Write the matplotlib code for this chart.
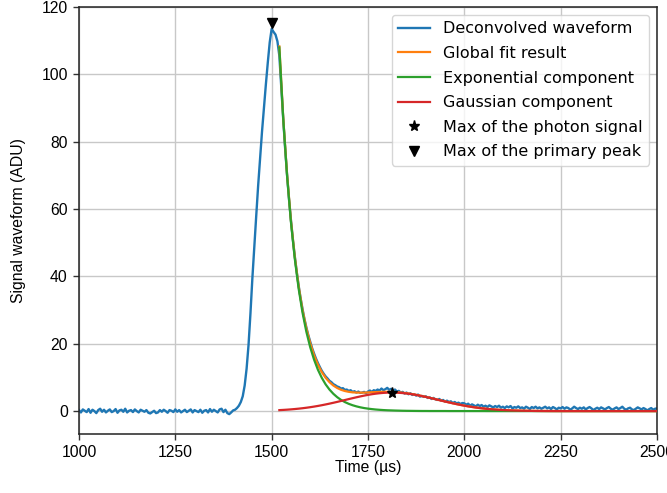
import numpy as np
import matplotlib
matplotlib.use("Agg")
import matplotlib.pyplot as plt

# ---------------- data ----------------
t_start, t_stop, t_step = 1000, 2500, 5

wave_base = [  # 1000 .. 1405
    0.3, -0.4, 0.5, 0.1, -0.3, 0.6, -0.5, 0.4, 0.0, -0.6, 0.3, 0.7, -0.2, 0.4, -0.4, 0.1, 0.5, -0.3, 0.0, 0.6,
    -0.5, 0.2, 0.4, -0.2, 0.7, -0.4, 0.1, 0.3, -0.3, 0.5, 0.0, -0.4, 0.4, 0.1, -0.2, 0.3, -0.5, -0.7, -0.3, 0.1,
    -0.6, -0.4, 0.3, -0.2, 0.4, 0.0, -0.5, 0.3, 0.1, -0.3, 0.5, -0.2, 0.3, -0.4, 0.0, 0.4, -0.3, 0.1, 0.5, -0.4,
    0.3, 0.0, -0.3, 0.4, -0.5, 0.1, 0.3, -0.4, 0.6, -0.2, 0.4, 0.0, -0.4, 0.5, 0.7, -0.3, 0.4, -0.6, -0.9, -0.4,
    0.2, 0.4,
]
wave_peak = [  # 1410 .. 1995
    0.9, 1.6, 2.7, 4.4, 7.6, 12.6, 19.6, 29.0, 39.5, 49.0, 58.0, 67.0, 75.0, 83.0, 90.0, 97.0, 103.5, 109.5,
    113.5, 112.6, 111.8, 109.8, 105.5, 96.0, 86.8, 78.0, 70.2, 63.0, 56.8, 51.0, 46.0, 41.4, 37.3, 33.6,
    30.4, 27.4, 24.9, 22.6, 20.6, 18.7, 17.1, 15.6, 14.3, 13.1, 12.0, 11.1, 10.3, 9.7, 9.0, 8.6, 8.0, 7.7,
    7.3, 7.1, 6.7, 6.8, 6.3, 6.4, 6.0, 6.2, 5.7, 5.9, 5.5, 5.8, 5.4, 5.5, 5.7, 5.3, 5.8, 6.1, 5.7, 6.2,
    6.0, 6.4, 6.1, 6.7, 6.2, 6.5, 6.9, 6.3, 6.6, 6.1, 6.4, 5.8, 6.0, 5.5, 5.7, 5.2, 5.5, 5.0, 5.3, 4.8,
    5.0, 4.6, 4.9, 4.3, 4.5, 4.2, 4.4, 3.9, 4.1, 3.6, 3.9, 3.5, 3.3, 3.6, 3.1, 3.3, 2.8, 3.1, 2.7, 2.9,
    2.4, 2.7, 2.3, 2.5, 2.1, 2.4,
]
wave_tail = [  # 2000 .. 2500
    2.3, 1.9, 2.2, 1.6, 2.0, 1.7, 1.4, 1.9, 1.5, 1.8, 1.3, 1.6, 1.2, 1.7, 1.4, 1.1, 1.5, 1.2, 1.6, 1.0,
    1.3, 0.9, 1.4, 1.1, 1.5, 0.8, 1.2, 1.0, 1.4, 0.9, 1.1, 0.7, 1.3, 1.0, 0.6, 1.2, 0.9, 1.3, 0.8, 1.1,
    0.7, 1.0, 1.3, 0.8, 1.1, 0.6, 1.2, 0.9, 0.5, 1.0, 0.8, 1.2, 0.7, 1.1, 0.9, 0.4, 0.8, 1.3, 0.9, 0.6,
    1.0, 0.7, 1.1, 0.5, 0.9, 1.2, 0.8, 0.3, 0.7, 1.0, 0.6, 1.1, 0.8, 0.5, 0.9, 1.2, 0.7, 0.4, 0.8, 1.1,
    0.6, 0.9, 1.3, 0.7, 0.4, 0.8, 1.0, 0.5, 0.3, 0.7, 1.1, 0.8, 0.5, 0.9, 0.6, 0.2, 0.6, 0.9, 0.4, 0.7,
    0.8,
]
waveform = wave_base + wave_peak + wave_tail

fit_start, fit_step = 1520, 10
exp_component = [
    108.0, 86.9, 69.9, 56.2, 45.3, 36.4, 29.3, 23.6, 19.0, 15.3, 12.3, 9.9, 7.95, 6.4, 5.15, 4.14, 3.33,
    2.68, 2.16, 1.74, 1.40, 1.12, 0.90, 0.73, 0.59, 0.47, 0.38, 0.30, 0.24, 0.20, 0.16, 0.13, 0.10, 0.08,
    0.066, 0.053, 0.04, 0.03, 0.03,
] + [0.02] * 5 + [0.01] * 10 + [0.0] * 45
gauss_component = [
    0.285, 0.348, 0.421, 0.507, 0.607, 0.720, 0.849, 0.993, 1.155, 1.334, 1.529, 1.741, 1.969, 2.211,
    2.465, 2.731, 3.003, 3.280, 3.558, 3.832, 4.100, 4.355, 4.594, 4.813, 5.007, 5.173, 5.307, 5.408,
    5.473, 5.500, 5.488, 5.438, 5.352, 5.231, 5.077, 4.894, 4.684, 4.452, 4.203, 3.940, 3.668, 3.391,
    3.114, 2.839, 2.571, 2.312, 2.064, 1.831, 1.612, 1.410, 1.224, 1.056, 0.905, 0.770, 0.650, 0.545,
    0.454, 0.376, 0.309, 0.252, 0.204, 0.164, 0.131, 0.104, 0.082, 0.064, 0.050, 0.038, 0.030, 0.023,
    0.017, 0.013, 0.010, 0.007,
] + [0.005] * 5 + [0.0] * 20
global_fit = [
    108.3, 87.2, 70.3, 56.7, 45.9, 37.1, 30.1, 24.6, 20.2, 16.6, 13.8, 11.6, 9.9, 8.6, 7.6, 6.87, 6.33,
    5.96, 5.72, 5.57, 5.50, 5.48, 5.49, 5.54, 5.60, 5.64, 5.69, 5.71, 5.71, 5.70, 5.65, 5.57, 5.45, 5.31,
    5.14, 4.95, 4.72, 4.48, 4.23, 3.96, 3.69, 3.41, 3.13, 2.86, 2.59, 2.33, 2.08, 1.84, 1.62, 1.42, 1.23,
    1.06, 0.91, 0.77, 0.65, 0.55, 0.46, 0.38, 0.31, 0.26, 0.21, 0.17, 0.14, 0.11, 0.09, 0.07, 0.05, 0.04,
    0.03, 0.023, 0.017, 0.013, 0.010, 0.007,
] + [0.005] * 5 + [0.0] * 20

photon_max = (1812, 5.4)
primary_max = (1500, 115.2)

xticks = [1000, 1250, 1500, 1750, 2000, 2250, 2500]
yticks = [0, 20, 40, 60, 80, 100, 120]

# ---------------- plot ----------------
t_wave = np.arange(t_start, t_start + t_step * len(waveform), t_step)
t_fit = np.arange(fit_start, fit_start + fit_step * len(global_fit), fit_step)

tick_font = "Liberation Sans"
fs = 11.3

fig = plt.figure(figsize=(6.67, 4.93), dpi=100)
ax = fig.add_axes([0.1184, 0.1197, 0.8666, 0.8661])

ax.plot(t_wave, waveform, color="#1f77b4", lw=1.7, label="Deconvolved waveform", zorder=2)
ax.plot(t_fit, global_fit, color="#ff7f0e", lw=1.6, label="Global fit result", zorder=3)
ax.plot(t_fit, exp_component, color="#2ca02c", lw=1.6, label="Exponential component", zorder=4)
ax.plot(t_fit, gauss_component, color="#d62728", lw=1.6, label="Gaussian component", zorder=5)
ax.plot([photon_max[0]], [photon_max[1]], ls="none", marker="*", color="k", ms=8,
        label="Max of the photon signal", zorder=6)
ax.plot([primary_max[0]], [primary_max[1]], ls="none", marker="v", color="k", ms=7,
        label="Max of the primary peak", zorder=6)

ax.set_xlim(1000, 2500)
ax.set_ylim(-6.8, 120)
ax.set_xticks(xticks)
ax.set_yticks(yticks)
ax.grid(True, color="#c8c8c8", lw=1.0)
ax.set_axisbelow(True)

for lab in ax.get_xticklabels() + ax.get_yticklabels():
    lab.set_fontfamily(tick_font)
    lab.set_fontsize(fs)
ax.tick_params(direction="out", length=4.5, width=1.0, color="#333333")
for s in ax.spines.values():
    s.set_color("#222222")
    s.set_linewidth(1.1)

ax.set_xlabel("Time (µs)", fontfamily=tick_font, fontsize=fs, labelpad=0)
ax.set_ylabel("Signal waveform (ADU)", fontfamily=tick_font, fontsize=fs, labelpad=11)

leg = ax.legend(loc="upper right", prop={"family": "DejaVu Sans", "size": 11.5},
                frameon=True, framealpha=0.8, edgecolor="#cccccc", borderaxespad=0.5,
                handlelength=2.0, labelspacing=0.6)

fig.savefig("out.png", dpi=100)
